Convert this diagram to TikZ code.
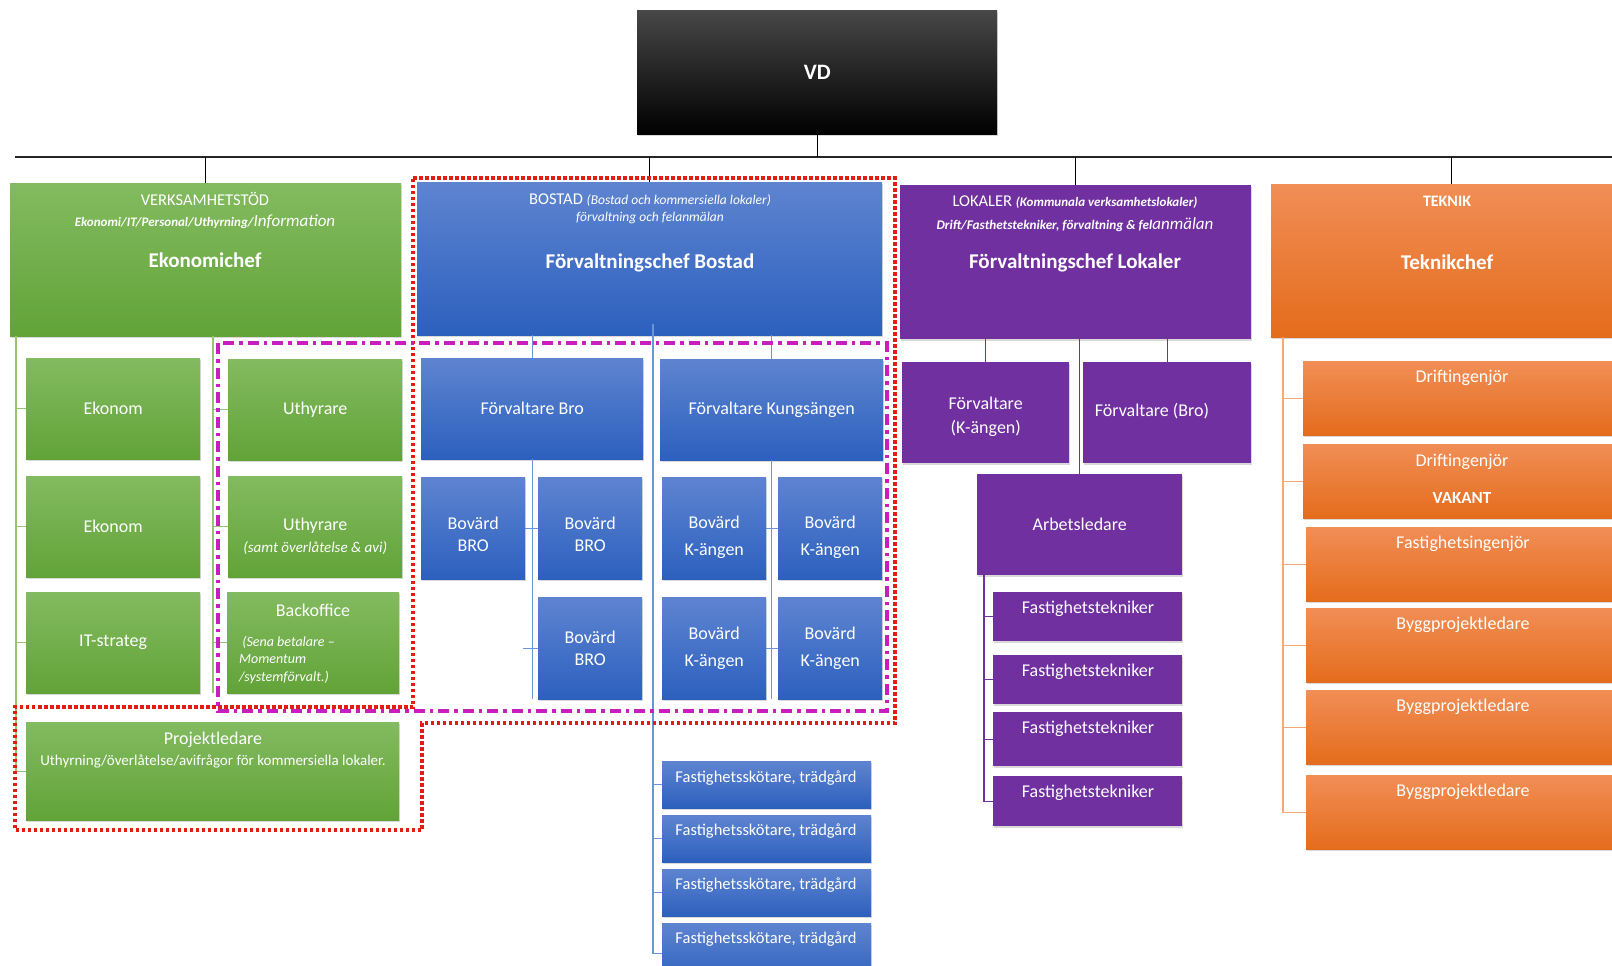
\documentclass[tikz,border=0pt]{standalone}
\usepackage{fontspec}
\setmainfont{Carlito}
\usetikzlibrary{shadows}

\definecolor{grnTop}{RGB}{131,187,96}
\definecolor{grnBot}{RGB}{98,163,56}
\definecolor{bluTop}{RGB}{94,132,208}
\definecolor{bluBot}{RGB}{44,96,190}
\definecolor{lila}{RGB}{112,48,160}
\definecolor{orTop}{RGB}{241,142,86}
\definecolor{orBot}{RGB}{228,108,28}
\definecolor{grnLine}{RGB}{150,196,112}
\definecolor{bluLine}{RGB}{104,150,214}
\definecolor{orLine}{RGB}{246,168,118}
\definecolor{redDot}{RGB}{226,30,20}
\definecolor{magDash}{RGB}{200,30,190}

\begin{document}
\begin{tikzpicture}[x=1pt, y=-1pt,
  sz/.style 2 args={minimum width=#1, minimum height=#2},
  box/.style={rectangle, anchor=north west, inner sep=0pt, text=white, align=center,
    font=\fontsize{18}{22}\selectfont,
    drop shadow={opacity=0.3, shadow xshift=1pt, shadow yshift=-2pt}},
  vdbox/.style={box, top color=black!72, middle color=black, bottom color=black,
    font=\fontsize{22}{26}\selectfont\bfseries},
  grbox/.style={box, top color=grnTop, bottom color=grnBot},
  blbox/.style={box, top color=bluTop, bottom color=bluBot},
  lilabox/.style={box, fill=lila},
  orbox/.style={box, top color=orTop, bottom color=orBot},
  txt/.style={inner sep=0pt, text=white, align=center, font=\fontsize{18}{22}\selectfont},
  hd/.style={txt, font=\fontsize{16.5}{19}\selectfont},
  chef/.style={txt, font=\fontsize{21}{24}\selectfont\bfseries},
  gconn/.style={draw=grnLine, line width=1.2pt},
  bconn/.style={draw=bluLine, line width=1.2pt},
  pconn/.style={draw=lila, line width=1.2pt},
  oconn/.style={draw=orLine, line width=1.2pt},
  rdots/.style={draw=redDot, line width=3.5pt, dash pattern=on 3.5pt off 2.5pt},
  mdashdot/.style={draw=magDash, line width=3.5pt, dash pattern=on 11pt off 5pt on 3.5pt off 5pt}]
\useasboundingbox (0,0) rectangle (1612,966);
\clip (0,0) rectangle (1612,966);

\node[vdbox, sz={360}{124}] (vd) at (637,10) {VD};

% heads
\node[grbox, sz={391}{153}] (verk) at (10,183) {};
\node[blbox, sz={465}{153}] (bostad) at (417,182) {};
\node[lilabox, sz={351}{154}] (lokaler) at (900,185) {};
\node[orbox, sz={360}{153}] (teknik) at (1271,184) {};

\node[hd] (verkT) at (205,199) {VERKSAMHETSTÖD};
\node[hd] (verkS) at (205,222) {{\fontsize{13}{15}\selectfont\bfseries\itshape Ekonomi/IT/Personal/Uthyrning/}{\fontsize{17}{19}\selectfont\itshape Information}};
\node[chef] (verkC) at (205,260) {Ekonomichef};

\node[hd] (bostadT) at (650,200) {BOSTAD {\fontsize{13.5}{15}\selectfont\itshape (Bostad och kommersiella lokaler)}};
\node[hd, font=\fontsize{13.5}{15}\selectfont\itshape] (bostadS) at (650,218) {förvaltning och felanmälan};
\node[chef] (bostadC) at (650,263) {Förvaltningschef Bostad};

\node[hd] (lokT) at (1075,202) {LOKALER {\fontsize{13}{15}\selectfont\bfseries\itshape (Kommunala verksamhetslokaler)}};
\node[hd] (lokS) at (1075,225) {{\fontsize{13.2}{15}\selectfont\bfseries\itshape Drift/Fasthetstekniker, förvaltning \& fel}{\fontsize{17}{19}\selectfont\itshape anmälan}};
\node[chef] (lokC) at (1075,263) {Förvaltningschef Lokaler};

\node[hd, font=\fontsize{16}{18}\selectfont\bfseries] (tekT) at (1447,201) {TEKNIK};
\node[chef] (tekC) at (1447,262) {Teknikchef};

% verksamhetsstod
\node[grbox, sz={174}{101}] (ekonom1) at (26,358) {Ekonom};
\node[grbox, sz={174}{101}] (ekonom2) at (26,476) {Ekonom};
\node[grbox, sz={174}{101}] (itstrateg) at (26,592) {IT-strateg};
\node[grbox, sz={174}{101}] (uthyrare1) at (228,359) {Uthyrare};
\node[grbox, sz={174}{101}] (uthyrare2) at (228,476) {\rule{0pt}{31pt}Uthyrare\\{\fontsize{15}{16}\selectfont\itshape (samt överlåtelse \& avi)}};
\node[grbox, sz={172}{101}] (backoffice) at (227,592) {};
\node[txt] (backT) at (313,610) {Backoffice};
\node[txt, anchor=west, align=left, font=\fontsize{14}{17.5}\selectfont\itshape] (backS) at (239,660) {\ (Sena betalare --\\Momentum\\/systemförvalt.)};
\node[grbox, sz={373}{98}] (projekt) at (26,722) {};
\node[txt] (projT) at (213,740) {Projektledare};
\node[txt, font=\fontsize{15}{16}\selectfont] (projS) at (213,761) {Uthyrning/överlåtelse/avifrågor för kommersiella lokaler.};

% bostad
\node[blbox, sz={222}{101}] (forvBro) at (421,358) {Förvaltare Bro};
\node[blbox, sz={223}{101}] (forvKung) at (660,359) {Förvaltare Kungsängen};
\node[blbox, sz={104}{102}] (bovBro1) at (421,477) {\rule{0pt}{24pt}Bovärd\\BRO};
\node[blbox, sz={104}{102}] (bovBro2) at (538,477) {\rule{0pt}{24pt}Bovärd\\BRO};
\node[blbox, sz={104}{102}] (bovBro3) at (538,597) {Bovärd\\BRO};
\node[blbox, sz={104}{102}, font=\fontsize{18}{27}\selectfont] (bovKa1) at (662,477) {\rule{0pt}{31pt}Bovärd\\K-ängen};
\node[blbox, sz={104}{102}, font=\fontsize{18}{27}\selectfont] (bovKa2) at (778,477) {\rule{0pt}{31pt}Bovärd\\K-ängen};
\node[blbox, sz={104}{102}, font=\fontsize{18}{27}\selectfont] (bovKa3) at (662,597) {Bovärd\\K-ängen};
\node[blbox, sz={104}{102}, font=\fontsize{18}{27}\selectfont] (bovKa4) at (778,597) {Bovärd\\K-ängen};
\node[blbox, sz={209}{47}] (skot1) at (662,761) {};
\node[blbox, sz={209}{47}] (skot2) at (662,815) {};
\node[blbox, sz={209}{47}] (skot3) at (662,869) {};
\node[blbox, sz={209}{60}] (skot4) at (662,923) {};
\node[txt, font=\fontsize{16.5}{19}\selectfont] (skot1T) at (766,778) {Fastighetsskötare, trädgård};
\node[txt, font=\fontsize{16.5}{19}\selectfont] (skot2T) at (766,831) {Fastighetsskötare, trädgård};
\node[txt, font=\fontsize{16.5}{19}\selectfont] (skot3T) at (766,885) {Fastighetsskötare, trädgård};
\node[txt, font=\fontsize{16.5}{19}\selectfont] (skot4T) at (766,939) {Fastighetsskötare, trädgård};

% lokaler
\node[lilabox, sz={167}{101}, font=\fontsize{18}{24}\selectfont] (forvK) at (902,362) {\rule{0pt}{20pt}Förvaltare\\(K-ängen)};
\node[lilabox, sz={168}{101}] (forvB) at (1083,362) {};
\node[txt] (forvBT) at (1152,411) {Förvaltare (Bro)};
\node[lilabox, sz={205}{101}] (arbets) at (977,474) {Arbetsledare};
\node[lilabox, sz={189}{49}] (tekn1) at (993,592) {};
\node[lilabox, sz={189}{49}] (tekn2) at (993,655) {};
\node[lilabox, sz={189}{54}] (tekn3) at (993,712) {};
\node[lilabox, sz={189}{50}] (tekn4) at (993,776) {};
\node[txt] (tekn1T) at (1088,609) {Fastighetstekniker};
\node[txt] (tekn2T) at (1088,672) {Fastighetstekniker};
\node[txt] (tekn3T) at (1088,729) {Fastighetstekniker};
\node[txt] (tekn4T) at (1088,793) {Fastighetstekniker};

% teknik
\node[orbox, sz={330}{74}] (drift1) at (1303,361) {};
\node[orbox, sz={330}{74}] (drift2) at (1303,444) {};
\node[orbox, sz={330}{74}] (fastIng) at (1306,527) {};
\node[orbox, sz={330}{74}] (bygg1) at (1306,608) {};
\node[orbox, sz={330}{74}] (bygg2) at (1306,690) {};
\node[orbox, sz={330}{74}] (bygg3) at (1306,775) {};
\node[txt] (drift1T) at (1462,378) {Driftingenjör};
\node[txt] (drift2T) at (1462,462) {Driftingenjör};
\node[txt, font=\fontsize{17}{20}\selectfont\bfseries] (vakant) at (1462,498) {VAKANT};
\node[txt] (fastIngT) at (1463,544) {Fastighetsingenjör};
\node[txt] (bygg1T) at (1463,625) {Byggprojektledare};
\node[txt] (bygg2T) at (1463,707) {Byggprojektledare};
\node[txt] (bygg3T) at (1463,792) {Byggprojektledare};

% lines
\coordinate (barL) at (15,157);
\coordinate (barR) at (1612,157);
\draw[line width=1.6pt, black!85] (barL) -- (barR);
\draw[line width=1pt] (vd.south) -- (vd.south |- barL);
\draw[line width=1pt] (verk.north) -- (verk.north |- barL);
\draw[line width=1pt] (bostad.north) -- (bostad.north |- barL);
\draw[line width=1pt] (lokaler.north) -- (lokaler.north |- barL);
\draw[line width=1pt] (teknik.north) -- (teknik.north |- barL);

\coordinate (railG1) at (16,336);
\coordinate (railG2) at (213,336);
\draw[gconn] (railG1) |- (projekt.west);
\draw[gconn] (ekonom1.west) -- (ekonom1.west -| railG1);
\draw[gconn] (ekonom2.west) -- (ekonom2.west -| railG1);
\draw[gconn] (itstrateg.west) -- (itstrateg.west -| railG1);
\draw[gconn] (railG2) -- (railG2 |- backoffice.south);
\draw[gconn] (uthyrare1.west) -- (uthyrare1.west -| railG2);
\draw[gconn] (uthyrare2.west) -- (uthyrare2.west -| railG2);
\draw[gconn] (backoffice.west) -- (backoffice.west -| railG2);

\coordinate (railB) at (653,324);
\draw[bconn] (forvBro.north) -- (forvBro.north |- bostad.south);
\draw[bconn] (forvBro.south) -- (forvBro.south |- bovBro3.south);
\draw[bconn] (bovBro1.east) -- (bovBro2.west);
\draw[bconn] (bovBro3.west) -- ++(-15,0);
\draw[bconn] (railB) |- (skot4.west);
\draw[bconn] (skot1.west) -- (skot1.west -| railB);
\draw[bconn] (skot2.west) -- (skot2.west -| railB);
\draw[bconn] (skot3.west) -- (skot3.west -| railB);
\draw[bconn] (forvKung.north) -- (forvKung.north |- bostad.south);
\draw[bconn] (forvKung.south) -- (forvKung.south |- bovKa4.south);
\draw[bconn] (bovKa1.east) -- (bovKa2.west);
\draw[bconn] (bovKa3.east) -- (bovKa4.west);

\coordinate (railP) at (984,575);
\draw[pconn] (forvK.north) -- (forvK.north |- lokaler.south);
\draw[pconn] (forvB.north) -- (forvB.north |- lokaler.south);
\draw[pconn] (arbets.north) -- (arbets.north |- lokaler.south);
\draw[pconn] (railP) |- (tekn4.west);
\draw[pconn] (tekn1.west) -- (tekn1.west -| railP);
\draw[pconn] (tekn2.west) -- (tekn2.west -| railP);
\draw[pconn] (tekn3.west) -- (tekn3.west -| railP);

\coordinate (railO) at (1283,337);
\draw[oconn] (railO) |- (bygg3.west);
\draw[oconn] (drift1.west) -- (drift1.west -| railO);
\draw[oconn] (drift2.west) -- (drift2.west -| railO);
\draw[oconn] (fastIng.west) -- (fastIng.west -| railO);
\draw[oconn] (bygg1.west) -- (bygg1.west -| railO);
\draw[oconn] (bygg2.west) -- (bygg2.west -| railO);

% markings
\draw[rdots] (413,178) -- (895,178) -- (895,723) -- (422,723) -- (422,830) -- (15,830) -- (15,707) -- (413,707) -- cycle;
\draw[mdashdot] (218,343) rectangle (887,711);
\end{tikzpicture}
\end{document}
